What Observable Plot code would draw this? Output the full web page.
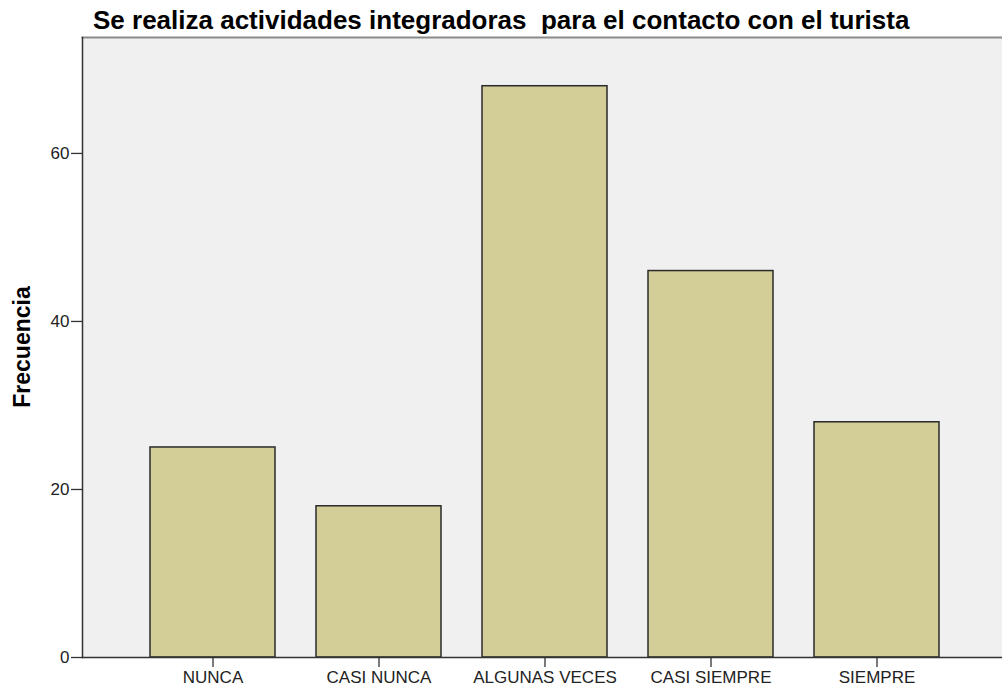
<!DOCTYPE html>
<html>
<head>
<meta charset="utf-8">
<script src="https://cdn.jsdelivr.net/npm/d3@7"></script>
<script src="https://cdn.jsdelivr.net/npm/@observablehq/plot@0.6"></script>
<style>
  html, body { margin: 0; padding: 0; background: #fff; overflow: hidden; }
  #chart { position: absolute; left: 0; top: 0; }
</style>
</head>
<body>
<div id="chart"></div>
<script>
const categories = ["NUNCA", "CASI NUNCA", "ALGUNAS VECES", "CASI SIEMPRE", "SIEMPRE"];
const frecuencia = [25, 18, 68, 46, 28];
const yTicks = [0, 20, 40, 60];
const yLabel = "Frecuencia";
const title = "Se realiza actividades integradoras  para el contacto con el turista";

const data = categories.map((c, i) => ({cat: c, freq: frecuencia[i]}));
const font = "'Liberation Sans', Arial, sans-serif";

const chart = Plot.plot({
  width: 1002,
  height: 690,
  marginTop: 37,
  marginBottom: 33,
  marginLeft: 82,
  marginRight: 0,
  style: {fontFamily: font, fontSize: "17px", color: "#222", background: "transparent"},
  x: {domain: categories, range: [80, 1008.5], paddingInner: 0.2444, paddingOuter: 0.406},
  y: {domain: [0, 73.8]},
  marks: [
    Plot.frame({fill: "#f0f0f0", stroke: null}),
    Plot.frame({anchor: "top", stroke: "#8a8a8a", strokeWidth: 2}),
    Plot.barY(data, {x: "cat", y: "freq", fill: "#d3ce97", stroke: "#2a2a2a", strokeWidth: 1.5}),
    Plot.frame({anchor: "left", stroke: "#333", strokeWidth: 1.5}),
    Plot.frame({anchor: "bottom", stroke: "#333", strokeWidth: 1.5}),
    Plot.axisX({tickSize: 10, tickPadding: 3, label: null, fontSize: 17, stroke: "#333", strokeWidth: 1.3}),
    Plot.axisY({ticks: yTicks, tickSize: 11, tickPadding: 2, label: null, fontSize: 17, stroke: "#333", strokeWidth: 1.3})
  ]
});
document.getElementById("chart").appendChild(chart);

const svg = d3.select(chart);
svg.append("text")
  .attr("x", 93).attr("y", 29)
  .attr("text-anchor", "start")
  .attr("font-family", font)
  .attr("font-weight", "bold")
  .attr("font-size", 26)
  .attr("fill", "#000")
  .style("white-space", "pre")
  .attr("xml:space", "preserve")
  .text(title);

svg.append("text")
  .attr("transform", "translate(30,347) rotate(-90)")
  .attr("text-anchor", "middle")
  .attr("font-family", font)
  .attr("font-weight", "bold")
  .attr("font-size", 23)
  .attr("fill", "#000")
  .text(yLabel);
</script>
</body>
</html>
